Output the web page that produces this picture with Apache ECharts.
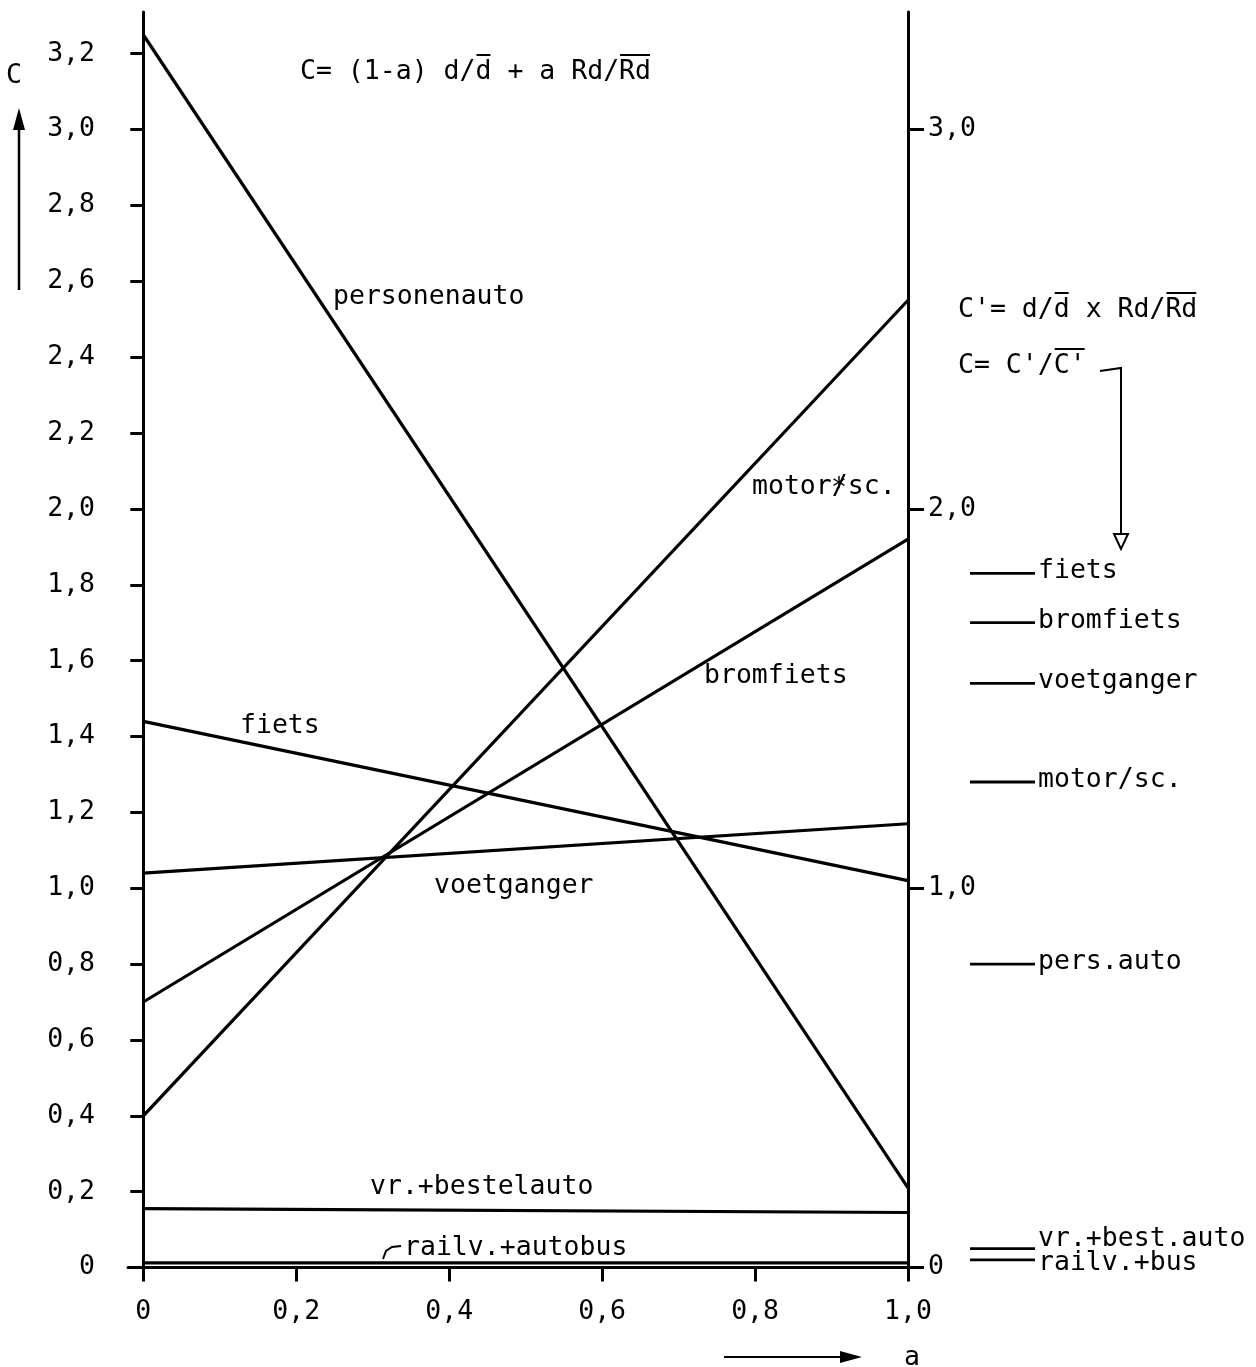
<!DOCTYPE html>
<html><head><meta charset="utf-8">
<script src="https://cdn.jsdelivr.net/npm/echarts@6/dist/echarts.min.js"></script>
<style>html,body{margin:0;padding:0;background:#fff}#c{width:1256px;height:1367px}</style>
</head><body><div id="c"></div>
<script>
const FONT = '"DejaVu Sans Mono", monospace';
const FS = 26.5;

// x values (a)
const aValues = [0, 1];
// C at a=0 and a=1 for each mode
const personenauto = [3.25, 0.21];
const motorSc = [0.40, 2.55];
const bromfiets = [0.70, 1.92];
const fiets = [1.44, 1.02];
const voetganger = [1.04, 1.17];
const vrBestelauto = [0.155, 0.145];
const railvAutobus = [0.012, 0.012];
const mainNames = ['personenauto', 'motor/sc.', 'bromfiets', 'fiets', 'voetganger', 'vr.+bestelauto', 'railv.+autobus'];
const mainValues = [personenauto, motorSc, bromfiets, fiets, voetganger, vrBestelauto, railvAutobus];

// right-hand scale: C = C'/C'-bar
const rightNames = ['fiets', 'bromfiets', 'voetganger', 'motor/sc.', 'pers.auto', 'vr.+best.auto', 'railv.+bus'];
const rightValues = [1.83, 1.70, 1.54, 1.28, 0.80, 0.05, 0.02];

// ticks
const yTickValues = [0, 0.2, 0.4, 0.6, 0.8, 1.0, 1.2, 1.4, 1.6, 1.8, 2.0, 2.2, 2.4, 2.6, 2.8, 3.0, 3.2];
const yTickLabels = ['0', '0,2', '0,4', '0,6', '0,8', '1,0', '1,2', '1,4', '1,6', '1,8', '2,0', '2,2', '2,4', '2,6', '2,8', '3,0', '3,2'];
const y2TickValues = [0, 1, 2, 3];
const y2TickLabels = ['0', '1,0', '2,0', '3,0'];
const xTickValues = [0, 0.2, 0.4, 0.6, 0.8, 1.0];
const xTickLabels = ['0', '0,2', '0,4', '0,6', '0,8', '1,0'];

function lookup(values, labels) {
  return function (v) {
    for (let i = 0; i < values.length; i++) if (Math.abs(values[i] - v) < 1e-6) return labels[i];
    return '';
  };
}

const Y_MIN = -0.025, Y_MAX = 3.31;
const axisLine = { show: true, lineStyle: { color: '#000', width: 3 } };

const series = [];
mainValues.forEach((vals, i) => {
  series.push({
    name: mainNames[i], type: 'line', xAxisIndex: 0, yAxisIndex: 0,
    data: aValues.map((a, j) => [a, vals[j]]),
    symbol: 'none', silent: true, animation: false,
    lineStyle: { color: '#000', width: 3.2 }
  });
});
rightValues.forEach((v, i) => {
  let off = [0, -2];
  if (rightNames[i] === 'vr.+best.auto') off = [0, -9];
  if (rightNames[i] === 'railv.+bus') off = [0, 3];
  series.push({
    name: rightNames[i], type: 'line', xAxisIndex: 1, yAxisIndex: 2,
    data: [[0, v], [1, v]],
    symbol: 'none', silent: true, animation: false,
    lineStyle: { color: '#000', width: 2.8 },
    endLabel: { show: true, formatter: rightNames[i], distance: 3, offset: off,
      color: '#000', fontFamily: FONT, fontSize: FS }
  });
});

function txt(x, y, text, size) {
  return { type: 'text', x: x, y: y, silent: true,
    style: { text: text, fill: '#000', font: (size || FS) + 'px ' + FONT, textVerticalAlign: 'middle' } };
}
const CW = FS * 0.602;
function overlines(x, y, ranges) {
  return ranges.map(r => ({ type: 'line', silent: true,
    shape: { x1: x + r[0] * CW + 1, y1: y - 17, x2: x + r[1] * CW - 1, y2: y - 17 },
    style: { stroke: '#000', lineWidth: 2 } }));
}

const graphics = [
  txt(6, 76, 'C'),
  txt(300, 72, 'C= (1-a) d/d + a Rd/Rd'),
  ...overlines(300, 72, [[11, 12], [20, 22]]),
  txt(333, 297, 'personenauto'),
  txt(752, 487, 'motor/sc.'),
  txt(831, 489, '*'),
  txt(704, 676, 'bromfiets'),
  txt(240, 726, 'fiets'),
  txt(434, 886, 'voetganger'),
  txt(370, 1187, 'vr.+bestelauto'),
  txt(404, 1248, 'railv.+autobus'),
  txt(958, 310, "C'= d/d x Rd/Rd"),
  ...overlines(958, 310, [[6, 7], [13, 15]]),
  txt(958, 366, "C= C'/C'"),
  ...overlines(958, 366, [[6, 8]]),
  txt(904, 1358, 'a'),
  // left up arrow
  { type: 'line', silent: true, shape: { x1: 19, y1: 290, x2: 19, y2: 124 }, style: { stroke: '#000', lineWidth: 2.5 } },
  { type: 'polygon', silent: true, shape: { points: [[19, 108], [13, 130], [25, 130]] }, style: { fill: '#000' } },
  // bottom arrow
  { type: 'line', silent: true, shape: { x1: 724, y1: 1357, x2: 848, y2: 1357 }, style: { stroke: '#000', lineWidth: 2 } },
  { type: 'polygon', silent: true, shape: { points: [[862, 1357], [840, 1351], [840, 1363]] }, style: { fill: '#000' } },
  // right arrow from C= C'/C'
  { type: 'polyline', silent: true, shape: { points: [[1100, 371], [1121, 368], [1121, 538]] }, style: { stroke: '#000', lineWidth: 2, fill: null } },
  { type: 'polygon', silent: true, shape: { points: [[1121, 549], [1114, 534], [1128, 534]] }, style: { stroke: '#000', lineWidth: 2, fill: '#fff' } },
  // hook near railv.+autobus
  { type: 'polyline', silent: true, shape: { points: [[383, 1259], [386, 1251], [392, 1247], [401, 1246]] }, style: { stroke: '#000', lineWidth: 2, fill: null } }
];

const option = {
  backgroundColor: '#fff',
  animation: false,
  grid: [
    { left: 128, right: 348, top: 12, bottom: 90 },
    { left: 970, width: 65, top: 12, bottom: 90 }
  ],
  xAxis: [
    { type: 'value', gridIndex: 0, min: -0.02, max: 1.0,
      axisLine: Object.assign({ onZero: true }, axisLine),
      axisTick: { show: true, inside: false, length: 14, customValues: xTickValues, lineStyle: { color: '#000', width: 3 } },
      axisLabel: { show: true, customValues: xTickValues, formatter: lookup(xTickValues, xTickLabels), margin: 22,
        color: '#000', fontFamily: FONT, fontSize: FS },
      splitLine: { show: false } },
    { type: 'value', gridIndex: 1, min: 0, max: 1, show: false }
  ],
  yAxis: [
    { type: 'value', gridIndex: 0, min: Y_MIN, max: Y_MAX,
      axisLine: Object.assign({ onZero: true }, axisLine),
      axisTick: { show: true, inside: false, length: 13, customValues: yTickValues, lineStyle: { color: '#000', width: 3 } },
      axisLabel: { show: true, customValues: yTickValues, formatter: lookup(yTickValues, yTickLabels), margin: 33,
        color: '#000', fontFamily: FONT, fontSize: FS },
      splitLine: { show: false } },
    { type: 'value', gridIndex: 0, position: 'right', min: Y_MIN, max: Y_MAX,
      axisLine: Object.assign({ onZero: false }, axisLine),
      axisTick: { show: true, inside: false, length: 16, customValues: y2TickValues, lineStyle: { color: '#000', width: 3 } },
      axisLabel: { show: true, customValues: y2TickValues, formatter: lookup(y2TickValues, y2TickLabels), margin: 20,
        color: '#000', fontFamily: FONT, fontSize: FS },
      splitLine: { show: false } },
    { type: 'value', gridIndex: 1, min: Y_MIN, max: Y_MAX, show: false }
  ],
  series: series,
  graphic: graphics
};

const chart = echarts.init(document.getElementById('c'), null, { renderer: 'canvas' });
chart.setOption(option);
</script>
</body></html>
